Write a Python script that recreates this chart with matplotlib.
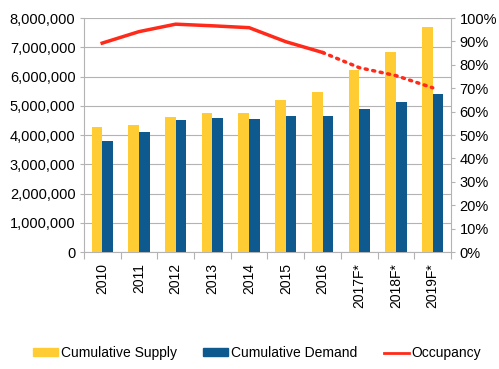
import numpy as np
import matplotlib.pyplot as plt
from matplotlib.patches import Patch
from matplotlib.lines import Line2D
from matplotlib.ticker import FuncFormatter, PercentFormatter

plt.rcParams['font.family'] = ['Liberation Sans', 'DejaVu Sans']

# Données
years = ['2010', '2011', '2012', '2013', '2014', '2015', '2016', '2017F*', '2018F*', '2019F*']
supply = [4270000, 4360000, 4630000, 4770000, 4770000, 5200000, 5480000, 6220000, 6840000, 7700000]
demand = [3790000, 4090000, 4500000, 4600000, 4560000, 4640000, 4660000, 4890000, 5140000, 5390000]
occupancy = [89.3, 94.2, 97.4, 96.7, 95.9, 89.9, 85.3, 78.8, 75.4, 70.2]
n_actual = 7  # années réelles (le reste = prévisions)

yellow = '#FFCC33'
blue = '#0E5A8F'
red = '#FF2A1A'
grey = '#B3B3B3'

fig = plt.figure(figsize=(4.99, 3.69), dpi=100)
ax = fig.add_axes([0.168, 0.317, 0.736, 0.634])

x = np.arange(len(years))
w = 0.29
ax.bar(x - w / 2, supply, w, color=yellow, zorder=3)
ax.bar(x + w / 2, demand, w, color=blue, zorder=3)

ax.set_xlim(-0.5, len(years) - 0.5)
ax.set_ylim(0, 8000000)
ax.set_yticks(np.arange(0, 8000001, 1000000))
ax.yaxis.set_major_formatter(FuncFormatter(lambda v, p: f'{int(v):,}'))
ax.grid(axis='y', color=grey, linewidth=0.8, zorder=0)

ax.set_xticks(x)
ax.set_xticklabels(years, rotation=90, fontsize=10)
ax.set_xticks(np.arange(-0.5, len(years)), minor=True)
ax.tick_params(axis='x', which='major', length=0, pad=8)
ax.tick_params(axis='x', which='minor', length=5, color=grey, width=0.8)
ax.tick_params(axis='y', length=3, color=grey, labelsize=10.5, pad=3)

for s in ['top', 'right']:
    ax.spines[s].set_visible(False)
for s in ['left', 'bottom']:
    ax.spines[s].set_color(grey)
    ax.spines[s].set_linewidth(0.8)

ax2 = ax.twinx()
ax2.set_ylim(0, 100)
ax2.set_yticks(np.arange(0, 101, 10))
ax2.yaxis.set_major_formatter(PercentFormatter(decimals=0))
ax2.tick_params(axis='y', length=3, color=grey, labelsize=10.5, pad=3)
for s in ['top', 'left', 'bottom']:
    ax2.spines[s].set_visible(False)
ax2.spines['right'].set_color(grey)
ax2.spines['right'].set_linewidth(0.8)

ax2.plot(x[:n_actual], occupancy[:n_actual], color=red, linewidth=2.5, zorder=4)
ax2.plot(x[n_actual - 1:], occupancy[n_actual - 1:], color=red, linewidth=2.5,
         linestyle=(0, (0.6, 1.6)), dash_capstyle='round', zorder=4)

handles = [Patch(color=yellow), Patch(color=blue), Line2D([], [], color=red, linewidth=2)]
labels = ['Cumulative Supply', 'Cumulative Demand', 'Occupancy']
fig.legend(handles, labels, loc='center', bbox_to_anchor=(0.515, 0.043), ncol=3,
           frameon=False, fontsize=10, handlelength=1.8, handleheight=0.45,
           handletextpad=0.2, columnspacing=1.9)

plt.savefig('out.png', dpi=100)
